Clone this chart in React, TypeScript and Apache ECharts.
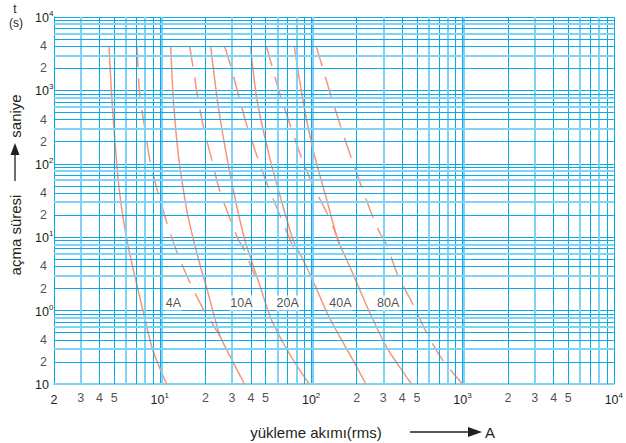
import React, { useEffect, useRef } from "react";
import * as echarts from "echarts";

// Fuse ratings and their time-current curves: [current (A), time (s)]
const fuseNames = ["4A", "10A", "20A", "40A", "80A"];

const s4A = [[4.62, 4000], [4.83, 740], [5.37, 48.3], [6.16, 7.83], [7.73, 1.02], [8.99, 0.29], [11.1, 0.1]];
const d4A = [[7.06, 4000], [7.17, 2218], [7.39, 813], [7.97, 307], [8.59, 113], [9.7, 41.3], [11.1, 16.1], [12.9, 6.49], [15.75, 2.45], [19.5, 1.02], [21.3, 0.769], [25.2, 0.437]];
const s10A = [[11.8, 4000], [12.3, 740], [13.34, 120], [15.2, 21.4], [16.7, 9.16], [18.6, 3.93], [20.6, 1.91], [22.6, 0.927], [25.2, 0.437], [30.7, 0.193], [36.25, 0.1]];
const d10A = [[15.75, 4000], [16.5, 2218], [17.8, 813], [19.5, 307], [22, 116], [24.8, 44], [29.3, 17.2], [33.1, 9.16], [35.7, 7.13], [42.8, 2.87]];
const s20A = [[21.7, 4000], [24, 740], [27.2, 154], [31.6, 32.1], [36.8, 8.6], [46.2, 2.1], [53.7, 0.818], [65.4, 0.362], [78.5, 0.193], [97, 0.1]];
const d20A = [[26.8, 4000], [29.3, 2218], [33.1, 866], [37.9, 317], [44.1, 124], [52.1, 48.3], [62.5, 19.4], [72.7, 9.16], [80.9, 5.72]];
const s40A = [[39.7, 4000], [43.9, 740], [53.7, 113], [65.4, 25.8], [76.1, 9.16], [88.6, 4.89], [109.5, 1.91], [127.4, 0.927], [155, 0.437], [189, 0.212], [230, 0.1]];
const d40A = [[50.6, 4000], [54.6, 2289], [62.5, 866], [72.7, 338], [85.5, 128], [102.6, 51.4], [126.9, 21.4], [143.8, 11.8], [155, 7.35]];
const s80A = [[77.3, 4000], [88.2, 740], [103, 154], [127, 32.1], [150.5, 9.16], [180.6, 3.93], [210, 1.91], [244.5, 0.927], [315, 0.319], [385, 0.17], [460, 0.1]];
const d80A = [[108, 4000], [117.6, 2218], [135.4, 839], [157, 317], [183.4, 124], [215.6, 48.3], [255.8, 18.8], [284.4, 11.4], [316, 7.83], [373.6, 3.05], [469, 1.23], [580, 0.495], [739, 0.212], [1000, 0.1]];

const solidCurves = [s4A, s10A, s20A, s40A, s80A];
const dashedCurves = [d4A, d10A, d20A, d40A, d80A];

// Fuse label anchors (current, time)
const fuseLabelCurrents = [12.3, 34.6, 70, 156, 323];
const fuseLabelTime = 1.27;

// Axis ranges and extra tick labels
const xMin = 2;
const xMax = 10000;
const yMin = 0.1;
const yMax = 10000;
const xExtraTickValues = [3, 4, 5, 20, 30, 40, 50, 200, 300, 400, 500, 2000, 3000, 4000, 5000];
const yExtraTickValues = [4000, 2000, 400, 200, 40, 20, 4, 2, 0.4, 0.2];
const decadesX = [1, 10, 100, 1000];
const decadesY = [0.1, 1, 10, 100, 1000];
const minorMultipliers = [2, 3, 4, 5, 6, 7, 8, 9];
const lightMultipliers = [3, 6, 8];

const FONT = "Liberation Sans, Arial, sans-serif";
const TXT = "#231f20";
const CURVE = "#f6957a";
const DARK = "#0ca9e8";
const LIGHT = "#80d3f4";

function leadDigit(v: number) {
  const e = Math.floor(Math.log10(v) + 1e-9);
  return String(Math.round(v / Math.pow(10, e)));
}

function decadeLabel(v: number, bottomPlain: boolean) {
  const e = Math.round(Math.log10(v));
  if (Math.abs(v - Math.pow(10, e)) < 1e-6 * v) {
    if (e < 0 && bottomPlain) return "{b|10}";
    return "{b|10}{s|" + e + "}";
  }
  return "{b|" + String(Math.round(v * 1000) / 1000) + "}";
}

const rich = {
  b: { fontSize: 12.5, color: TXT, fontFamily: FONT, lineHeight: 15, verticalAlign: "bottom" },
  s: { fontSize: 8, color: TXT, fontFamily: FONT, lineHeight: 8, verticalAlign: "top" },
};

export default function App() {
  const ref = useRef<HTMLDivElement>(null);
  useEffect(() => {
    document.body.style.margin = "0";
    if (!ref.current) return;
    const chart = echarts.init(ref.current, null, { renderer: "svg" });

    const xGrid: any[] = [];
    decadesX.forEach((d) => {
      minorMultipliers.forEach((k) => {
        const v = k * d;
        if (v > xMin && v < xMax) {
          const light = lightMultipliers.includes(k);
          xGrid.push({ xAxis: v, lineStyle: { color: light ? LIGHT : DARK, width: light ? 2 : 1, type: "solid" } });
        }
      });
      if (d * 10 < xMax) xGrid.push({ xAxis: d * 10 * 1.025, lineStyle: { color: LIGHT, width: 2, type: "solid" } });
    });
    const yGrid: any[] = [];
    decadesY.forEach((d) => {
      minorMultipliers.forEach((k) => {
        const v = k * d;
        if (v > yMin && v < yMax) {
          const light = lightMultipliers.includes(k);
          yGrid.push({ yAxis: v, lineStyle: { color: light ? LIGHT : DARK, width: light ? 2 : 1, type: "solid" } });
        }
      });
    });

    const series: any[] = [
      {
        type: "line",
        data: [],
        z: 1,
        silent: true,
        markLine: {
          silent: true,
          symbol: "none",
          label: { show: false },
          emphasis: { disabled: true },
          data: [...xGrid, ...yGrid],
        },
      },
    ];
    solidCurves.forEach((c, i) => {
      series.push({
        name: fuseNames[i] + " min",
        type: "line",
        data: c,
        smooth: 0.25,
        showSymbol: false,
        z: 3,
        lineStyle: { color: CURVE, width: 1.5 },
      });
    });
    dashedCurves.forEach((c, i) => {
      series.push({
        name: fuseNames[i] + " max",
        type: "line",
        data: c,
        smooth: 0.25,
        showSymbol: false,
        z: 3,
        lineStyle: { color: CURVE, width: 1.5, type: [21, 11] },
      });
    });
    // fuse labels
    series.push({
      type: "scatter",
      symbolSize: 0,
      z: 5,
      silent: true,
      data: fuseNames.map((n, i) => ({ name: n, value: [fuseLabelCurrents[i], fuseLabelTime] })),
      label: {
        show: true,
        position: "inside",
        formatter: (p: any) => p.name,
        color: TXT,
        fontSize: 12.5,
        fontFamily: FONT,
        backgroundColor: "#ffffff",
        padding: [1, 1],
      },
    });
    // extra x tick labels
    series.push({
      type: "scatter",
      symbolSize: 0,
      clip: false,
      silent: true,
      data: xExtraTickValues.map((v) => ({ name: leadDigit(v), value: [v, yMin] })),
      label: {
        show: true,
        position: "bottom",
        distance: 7,
        formatter: (p: any) => p.name,
        color: TXT,
        fontSize: 12.5,
        fontFamily: FONT,
      },
    });
    // extra y tick labels
    series.push({
      type: "scatter",
      symbolSize: 0,
      clip: false,
      silent: true,
      data: yExtraTickValues.map((v) => ({ name: leadDigit(v), value: [xMin, v] })),
      label: {
        show: true,
        position: "left",
        distance: 7,
        formatter: (p: any) => p.name,
        color: TXT,
        fontSize: 12.5,
        fontFamily: FONT,
      },
    });

    chart.setOption({
      animation: false,
      backgroundColor: "#ffffff",
      grid: { left: 54, right: 12, top: 17, bottom: 59, containLabel: false },
      xAxis: {
        type: "log",
        logBase: 10,
        min: xMin,
        max: xMax,
        axisLine: { show: true, lineStyle: { color: LIGHT, width: 2 } },
        axisTick: { show: false },
        splitLine: { show: true, lineStyle: { color: DARK, width: 1 } },
        axisLabel: {
          showMinLabel: true,
          showMaxLabel: true,
          margin: 7,
          formatter: (v: number) => decadeLabel(v, false),
          rich,
        },
      },
      yAxis: {
        type: "log",
        logBase: 10,
        min: yMin,
        max: yMax,
        axisLine: { show: true, lineStyle: { color: DARK, width: 1 } },
        axisTick: { show: false },
        splitLine: { show: true, lineStyle: { color: DARK, width: 1 } },
        axisLabel: {
          showMinLabel: true,
          showMaxLabel: true,
          align: "left",
          margin: 19,
          formatter: (v: number) => decadeLabel(v, true),
          rich,
        },
      },
      graphic: [
        { type: "text", x: 15, y: 9, style: { text: "t", fontSize: 12, fontFamily: FONT, fill: TXT, align: "center", verticalAlign: "middle" } },
        { type: "text", x: 16, y: 23, style: { text: "(s)", fontSize: 12, fontFamily: FONT, fill: TXT, align: "center", verticalAlign: "middle" } },
        { type: "text", x: 15, y: 116, rotation: Math.PI / 2, style: { text: "saniye", fontSize: 15, fontFamily: FONT, fill: TXT, align: "center", verticalAlign: "middle" } },
        { type: "line", shape: { x1: 15, y1: 181, x2: 15, y2: 152 }, style: { stroke: TXT, lineWidth: 1.3 } },
        { type: "polygon", shape: { points: [[15, 143], [10.5, 155], [19.5, 155]] }, style: { fill: TXT } },
        { type: "text", x: 15, y: 235, rotation: Math.PI / 2, style: { text: "açma süresi", fontSize: 15, fontFamily: FONT, fill: TXT, align: "center", verticalAlign: "middle" } },
        { type: "text", x: 316, y: 432, style: { text: "yükleme akımı(rms)", fontSize: 15, fontFamily: FONT, fill: TXT, align: "center", verticalAlign: "middle" } },
        { type: "line", shape: { x1: 410, y1: 432, x2: 470, y2: 432 }, style: { stroke: TXT, lineWidth: 1.3 } },
        { type: "polygon", shape: { points: [[482, 432], [468, 427], [468, 437]] }, style: { fill: TXT } },
        { type: "text", x: 490, y: 432, style: { text: "A", fontSize: 15, fontFamily: FONT, fill: TXT, align: "center", verticalAlign: "middle" } },
      ],
      series,
    });
    return () => chart.dispose();
  }, []);
  return <div ref={ref} style={{ width: 626, height: 443 }} />;
}
